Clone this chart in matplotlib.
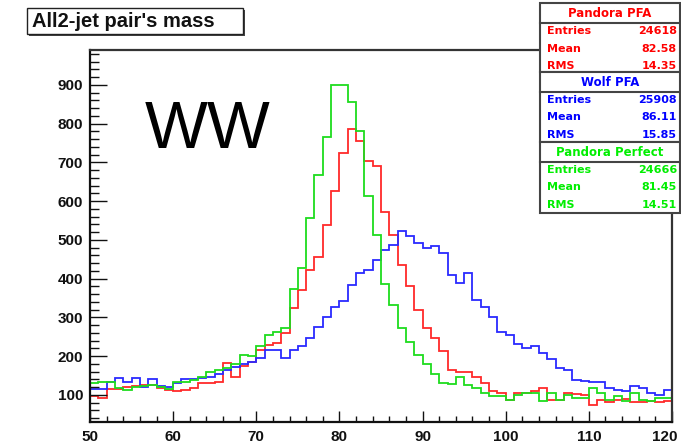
import numpy as np
import matplotlib
matplotlib.use("Agg")
import matplotlib.pyplot as plt
import matplotlib.transforms as mtransforms
from matplotlib.patches import Rectangle
from matplotlib.ticker import MultipleLocator

# ---- data -------------------------------------------------------------
x_lo, x_hi, bin_w = 50, 120, 1

pandora_pfa = [96, 91, 115, 115, 120, 123, 125, 125, 117, 113,
               109, 113, 117, 130, 130, 134, 182, 147, 175, 185,
               216, 229, 233, 259, 324, 371, 421, 457, 539, 626,
               724, 786, 754, 704, 691, 573, 513, 435, 380, 319,
               272, 246, 212, 165, 160, 160, 147, 131, 109, 104,
               87, 104, 104, 109, 117, 87, 87, 104, 103, 100,
               74, 87, 82, 87, 89, 82, 82, 85, 82, 85]

wolf_pfa = [115, 115, 134, 143, 134, 143, 120, 141, 123, 120,
            130, 141, 141, 143, 147, 154, 165, 172, 180, 185,
            195, 216, 216, 195, 216, 225, 246, 276, 302, 328,
            343, 384, 414, 423, 448, 474, 487, 524, 509, 491,
            480, 485, 466, 410, 388, 414, 345, 328, 300, 261,
            255, 231, 220, 225, 208, 193, 170, 165, 139, 136,
            134, 132, 117, 113, 111, 124, 119, 104, 100, 113]

pandora_perfect = [130, 134, 134, 117, 113, 120, 123, 125, 120, 115,
                   132, 132, 139, 147, 160, 165, 169, 180, 203, 200,
                   225, 255, 262, 272, 373, 427, 556, 668, 765, 900,
                   900, 857, 780, 613, 513, 386, 332, 272, 237, 203,
                   180, 154, 130, 128, 147, 126, 117, 106, 96, 96,
                   87, 100, 104, 104, 83, 106, 87, 100, 91, 91,
                   117, 104, 87, 96, 83, 104, 87, 83, 91, 91]

series_names = ["Pandora PFA", "Wolf PFA", "Pandora Perfect"]
series_entries = ["24618", "25908", "24666"]
series_means = ["82.58", "86.11", "81.45"]
series_rms = ["14.35", "15.85", "14.51"]
series_colors = ["#ff2a2a", "#2a2aff", "#1edc1e"]
text_colors = ["#ff0000", "#0000ff", "#00ee00"]

title_text = "All2-jet pair's mass"
label_text = "WW"
y_lo, y_hi = 30, 990

# ---- figure -----------------------------------------------------------
W, H = 681, 448
plt.rcParams["font.family"] = ["Liberation Sans", "DejaVu Sans"]
fig = plt.figure(figsize=(W / 100, H / 100), dpi=100)
fig.patch.set_facecolor("white")

def fx(px):
    return px / W

def fy(py):
    return 1 - py / H

ax = fig.add_axes([fx(90), fy(422), (672 - 90) / W, (422 - 50) / H])

edges = np.arange(x_lo, x_hi + bin_w, bin_w)
for vals, col in zip([pandora_pfa, wolf_pfa, pandora_perfect], series_colors):
    ax.stairs(vals, edges, baseline=None, color=col, linewidth=1.3)

ax.set_xlim(x_lo, x_hi)
ax.set_ylim(y_lo, y_hi)
ax.xaxis.set_major_locator(MultipleLocator(10))
ax.xaxis.set_minor_locator(MultipleLocator(2))
ax.yaxis.set_major_locator(MultipleLocator(100))
ax.yaxis.set_minor_locator(MultipleLocator(20))

ax.tick_params(axis="both", which="both", direction="in", top=False, right=False,
               colors="#111111")
ax.tick_params(axis="y", which="major", length=12.5, width=1.0, pad=5, labelsize=11)
ax.tick_params(axis="y", which="minor", length=6.3, width=1.0)
ax.tick_params(axis="x", which="major", length=8, width=1.0, pad=6, labelsize=11)
ax.tick_params(axis="x", which="minor", length=4, width=1.0)
fig.canvas.draw()
ax.set_yticks(ax.get_yticks())
ax.set_yticklabels([f"{int(v)}" for v in ax.get_yticks()])
ax.set_xticks(ax.get_xticks())
ax.set_xticklabels([f"{int(v)}" for v in ax.get_xticks()])
for lbl in ax.get_xticklabels() + ax.get_yticklabels():
    lbl.set_fontweight("bold")
ax.set_ylim(y_lo, y_hi)
ax.set_xlim(x_lo, x_hi)

# keep the last x label inside the canvas, as in the reference
shift = mtransforms.ScaledTranslation(-7 / 100, 0, fig.dpi_scale_trans)
for lbl in ax.get_xticklabels():
    if lbl.get_text() == str(x_hi):
        lbl.set_transform(lbl.get_transform() + shift)

for side in ["left", "bottom"]:
    ax.spines[side].set_linewidth(1.6)
    ax.spines[side].set_color("#111111")
for side in ["top", "right"]:
    ax.spines[side].set_linewidth(1.6)
    ax.spines[side].set_color("#333333")

ax.text(0.0945, 0.7366, label_text, transform=ax.transAxes, fontsize=48,
        va="baseline", ha="left", color="black",
        family=["Liberation Sans", "DejaVu Sans"])

# ---- title box ---------------------------------------------------------
fig.add_artist(Rectangle((fx(29), fy(36)), (245 - 29) / W, (36 - 10) / H,
                         transform=fig.transFigure, facecolor="#444444",
                         edgecolor="none", zorder=4))
fig.add_artist(Rectangle((fx(27), fy(34)), (243 - 27) / W, (34 - 8) / H,
                         transform=fig.transFigure, facecolor="white",
                         edgecolor="#222222", linewidth=1.0, zorder=5))
fig.text(fx(32), fy(21.5), title_text, fontsize=14.5, fontweight="bold",
         va="center", ha="left", color="#111111", zorder=6)

# ---- stats boxes -------------------------------------------------------
box_tops = [3, 72, 142]
box_h = [69, 70, 71]
for i in range(3):
    top = box_tops[i]
    bot = top + box_h[i]
    fig.add_artist(Rectangle((fx(540), fy(bot)), (680 - 540) / W, (bot - top) / H,
                             transform=fig.transFigure, facecolor="white",
                             edgecolor="#444444", linewidth=1.5, zorder=4))
    line_y = top + 20
    fig.add_artist(plt.Line2D([fx(540), fx(680)], [fy(line_y), fy(line_y)],
                              transform=fig.transFigure, color="#444444",
                              linewidth=1.5, zorder=5))
    fig.text(fx(610), fy(top + 10.5), series_names[i], fontsize=8.5,
             fontweight="bold", color=text_colors[i], ha="center", va="center",
             family=["DejaVu Sans"], zorder=6)
    rows = [("Entries", series_entries[i]), ("Mean", series_means[i]),
            ("RMS", series_rms[i])]
    for j, (name, val) in enumerate(rows):
        yy = top + 28 + j * 17.5
        fig.text(fx(547), fy(yy), name, fontsize=8, fontweight="bold",
                 color=text_colors[i], ha="left", va="center",
                 family=["DejaVu Sans"], zorder=6)
        fig.text(fx(677), fy(yy), val, fontsize=8, fontweight="bold",
                 color=text_colors[i], ha="right", va="center",
                 family=["DejaVu Sans"], zorder=6)

fig.savefig("out.png", dpi=100, facecolor="white")
